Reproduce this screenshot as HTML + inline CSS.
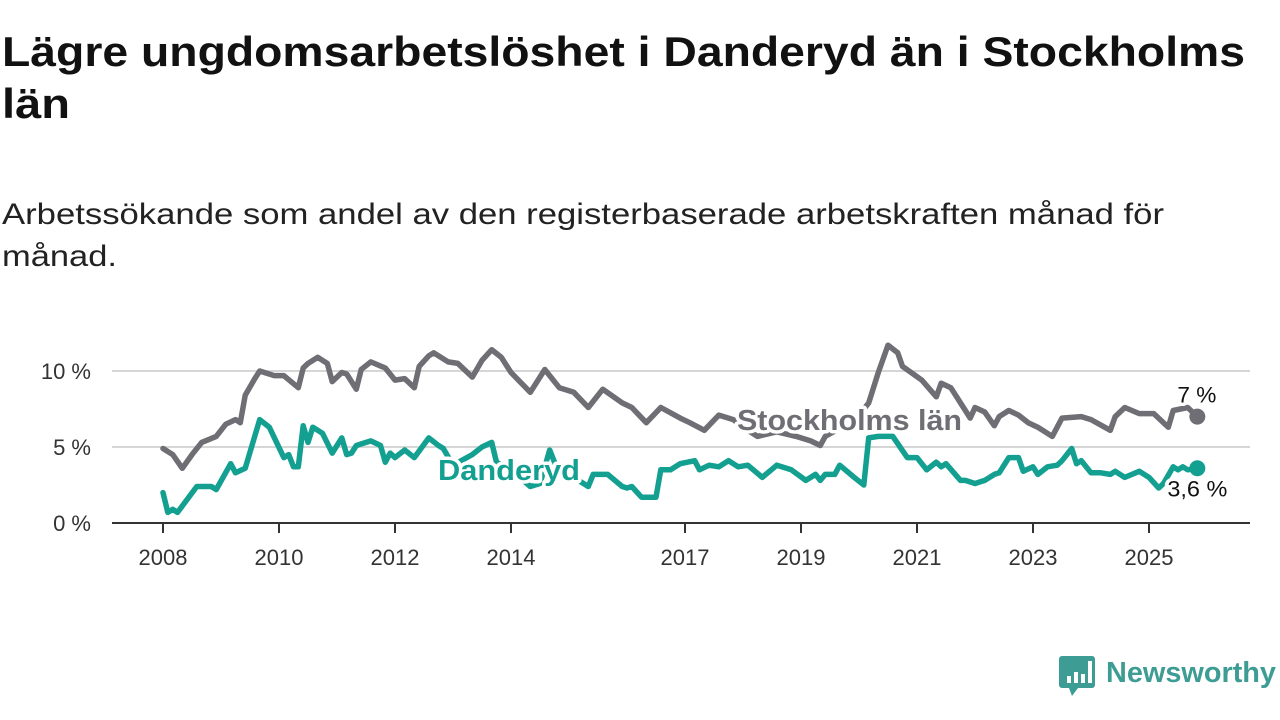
<!DOCTYPE html>
<html><head><meta charset="utf-8"><style>
html,body{margin:0;padding:0;background:#fff;width:1280px;height:720px;overflow:hidden}
svg{display:block}
text{font-family:"Liberation Sans",sans-serif}
</style></head><body>
<svg id="chart" width="1280" height="720" viewBox="0 0 1280 720">
<text x="2" y="66" font-size="42" font-weight="bold" fill="#111" textLength="1243" lengthAdjust="spacingAndGlyphs">Lägre ungdomsarbetslöshet i Danderyd än i Stockholms</text>
<text x="2" y="118" font-size="42" font-weight="bold" fill="#111" textLength="68" lengthAdjust="spacingAndGlyphs">län</text>
<text x="2" y="224" font-size="30" fill="#222" textLength="1162" lengthAdjust="spacingAndGlyphs">Arbetssökande som andel av den registerbaserade arbetskraften månad för</text>
<text x="2" y="266" font-size="30" fill="#222" textLength="115" lengthAdjust="spacingAndGlyphs">månad.</text>
<g id="grid"></g>
<g id="yaxis"></g>
<g id="xaxis"></g>
<g id="series"></g>
<g id="labels"></g>
<g>
<path d="M1062 656 h30 a3 3 0 0 1 3 3 v26 a3 3 0 0 1 -3 3 h-14 l-6 8 l-3 -8 h-7 a3 3 0 0 1 -3 -3 v-26 a3 3 0 0 1 3 -3z" fill="#3d9c94"/>
<rect x="1067" y="676" width="4" height="7" fill="#fff"/><rect x="1074" y="672" width="4" height="11" fill="#fff"/><rect x="1081" y="674" width="4" height="9" fill="#fff"/><rect x="1088" y="661" width="4" height="22" fill="#fff"/>
<text x="1106" y="682" font-size="29" font-weight="bold" fill="#3d9c94" textLength="170" lengthAdjust="spacingAndGlyphs">Newsworthy</text>
</g>
</svg>
<script>
const yTicks = [0, 5, 10];
const yTickLabels = ["0 %", "5 %", "10 %"];
const xTicks = [2008, 2010, 2012, 2014, 2017, 2019, 2021, 2023, 2025];
const sthlmMonths = [0,2,4,6,8,11,13,15,16,17,19,20,23,25,28,29,30,32,34,35,37,38,40,41,43,46,48,50,52,53,55,56,59,61,64,66,68,70,72,76,79,82,85,88,91,95,97,100,103,107,109,112,115,118,120,123,127,131,134,136,137,141,144,146,148,150,152,153,157,160,161,163,165,167,168,170,172,173,175,177,179,181,184,186,190,192,196,197,199,202,205,208,209,212,214];
const sthlmValues = [4.9,4.5,3.6,4.5,5.3,5.7,6.5,6.8,6.6,8.4,9.5,10.0,9.7,9.7,8.9,10.2,10.5,10.9,10.5,9.3,9.9,9.8,8.8,10.1,10.6,10.2,9.4,9.5,8.9,10.3,11.0,11.2,10.6,10.5,9.6,10.7,11.4,10.9,9.9,8.6,10.1,8.9,8.6,7.6,8.8,7.9,7.6,6.6,7.6,6.9,6.6,6.1,7.1,6.8,6.3,5.7,6.0,5.7,5.4,5.1,5.7,6.4,7.1,7.9,9.9,11.7,11.2,10.3,9.4,8.3,9.2,8.9,7.9,6.9,7.6,7.3,6.4,7.0,7.4,7.1,6.6,6.3,5.7,6.9,7.0,6.8,6.1,7.0,7.6,7.2,7.2,6.3,7.4,7.6,7.0];
const danMonths = [0,1,2,3,7,10,11,14,15,17,20,22,25,26,27,28,29,30,31,33,35,37,38,39,40,43,45,46,47,48,50,52,55,57,58,60,64,66,68,69,72,76,78,80,82,85,88,89,92,95,96,97,99,102,103,105,107,110,111,113,115,117,119,121,124,127,130,133,135,136,137,139,140,143,145,146,148,151,154,156,158,160,161,162,165,166,168,170,172,173,175,177,178,180,181,183,185,186,188,189,190,192,194,196,197,199,202,204,206,207,209,210,211,212,214];
const danValues = [2.0,0.7,0.9,0.7,2.4,2.4,2.2,3.9,3.3,3.6,6.8,6.3,4.3,4.5,3.7,3.7,6.4,5.3,6.3,5.9,4.6,5.6,4.5,4.6,5.1,5.4,5.1,4.0,4.6,4.3,4.8,4.3,5.6,5.1,4.9,3.8,4.5,5.0,5.3,4.0,3.5,2.4,2.6,4.8,3.2,3.0,2.4,3.2,3.2,2.4,2.3,2.4,1.7,1.7,3.5,3.5,3.9,4.1,3.5,3.8,3.7,4.1,3.7,3.8,3.0,3.8,3.5,2.8,3.2,2.8,3.2,3.2,3.8,3.0,2.5,5.6,5.7,5.7,4.3,4.3,3.5,4.0,3.7,3.9,2.8,2.8,2.6,2.8,3.2,3.3,4.3,4.3,3.4,3.7,3.2,3.7,3.8,4.1,4.9,3.9,4.1,3.3,3.3,3.2,3.4,3.0,3.4,3.0,2.3,2.6,3.7,3.5,3.7,3.5,3.6];
const lastSthlmLabel = "7 %";
const lastDanLabel = "3,6 %";

const NS = "http://www.w3.org/2000/svg";
const X0 = 163, PX_PER_YEAR = 58, Y0 = 523, PX_PER_PCT = 15.2;
function xScale(year){ return X0 + (year - 2008) * PX_PER_YEAR; }
function xMonth(m){ return xScale(2008 + m / 12); }
function yScale(v){ return Y0 - v * PX_PER_PCT; }
function mk(tag, attrs, parent){ const e = document.createElementNS(NS, tag); for (const k in attrs) e.setAttribute(k, attrs[k]); parent.appendChild(e); return e; }

const grid = document.getElementById('grid');
const yaxis = document.getElementById('yaxis');
yTicks.forEach((t, i) => {
  if (t > 0) {
    const gl = mk('line', {x1:112, x2:1250, y1:yScale(t), y2:yScale(t), stroke:'#d6d6d6', 'stroke-width':2}, grid);
    
    
  }
  const tl = mk('text', {x:91, y:yScale(t)+8, 'font-size':22, fill:'#333', 'text-anchor':'end'}, yaxis);
  tl.textContent = yTickLabels[i];
  
  
});
const xaxis = document.getElementById('xaxis');
const base = mk('line', {x1:112, x2:1250, y1:Y0, y2:Y0, stroke:'#333', 'stroke-width':2}, xaxis);


xTicks.forEach(t => {
  const tk = mk('line', {x1:xScale(t), x2:xScale(t), y1:Y0, y2:Y0+10, stroke:'#333', 'stroke-width':2}, xaxis);
  
  
  const tl = mk('text', {x:xScale(t), y:565, 'font-size':22, fill:'#333', 'text-anchor':'middle'}, xaxis);
  tl.textContent = t;
  
  
});

const series = document.getElementById('series');
function drawLine(months, values, color, name){
  const d = months.map((m, i) => (i ? 'L' : 'M') + xMonth(m).toFixed(1) + ' ' + yScale(values[i]).toFixed(1)).join(' ');
  const p = mk('path', {d:d, fill:'none', stroke:color, 'stroke-width':5.5, 'stroke-linejoin':'round', 'stroke-linecap':'round'}, series);
  
  
  const n = months.length - 1;
  const c = mk('circle', {cx:xMonth(months[n]), cy:yScale(values[n]), r:8, fill:color}, series);
  
  
}
drawLine(sthlmMonths, sthlmValues, '#6e6e74', 'stockholm');
drawLine(danMonths, danValues, '#14a091', 'danderyd');

const labels = document.getElementById('labels');
function lbl(txt, x, y, size, weight, color, name, len){
  const t = mk('text', {x:x, y:y, 'font-size':size, 'font-weight':weight, fill:color, stroke:'#fff', 'stroke-width':7, 'stroke-linejoin':'round', 'paint-order':'stroke', textLength:len, lengthAdjust:'spacingAndGlyphs'}, labels);
  t.textContent = txt;
  
  
}
lbl('Stockholms län', 737, 430, 29, 'bold', '#6e6e74', 'stockholm-series-label', 225);
lbl('Danderyd', 438, 480, 29, 'bold', '#14a091', 'danderyd-series-label', 142);
const ns = sthlmMonths.length - 1, nd = danMonths.length - 1;
lbl(lastSthlmLabel, xMonth(sthlmMonths[ns]) - 20, yScale(sthlmValues[ns]) - 14, 22, 'normal', '#111', 'stockholm-last-value', 39);
lbl(lastDanLabel, xMonth(danMonths[nd]) - 30, yScale(danValues[nd]) + 28, 22, 'normal', '#111', 'danderyd-last-value', 60);
</script>
</body></html>
